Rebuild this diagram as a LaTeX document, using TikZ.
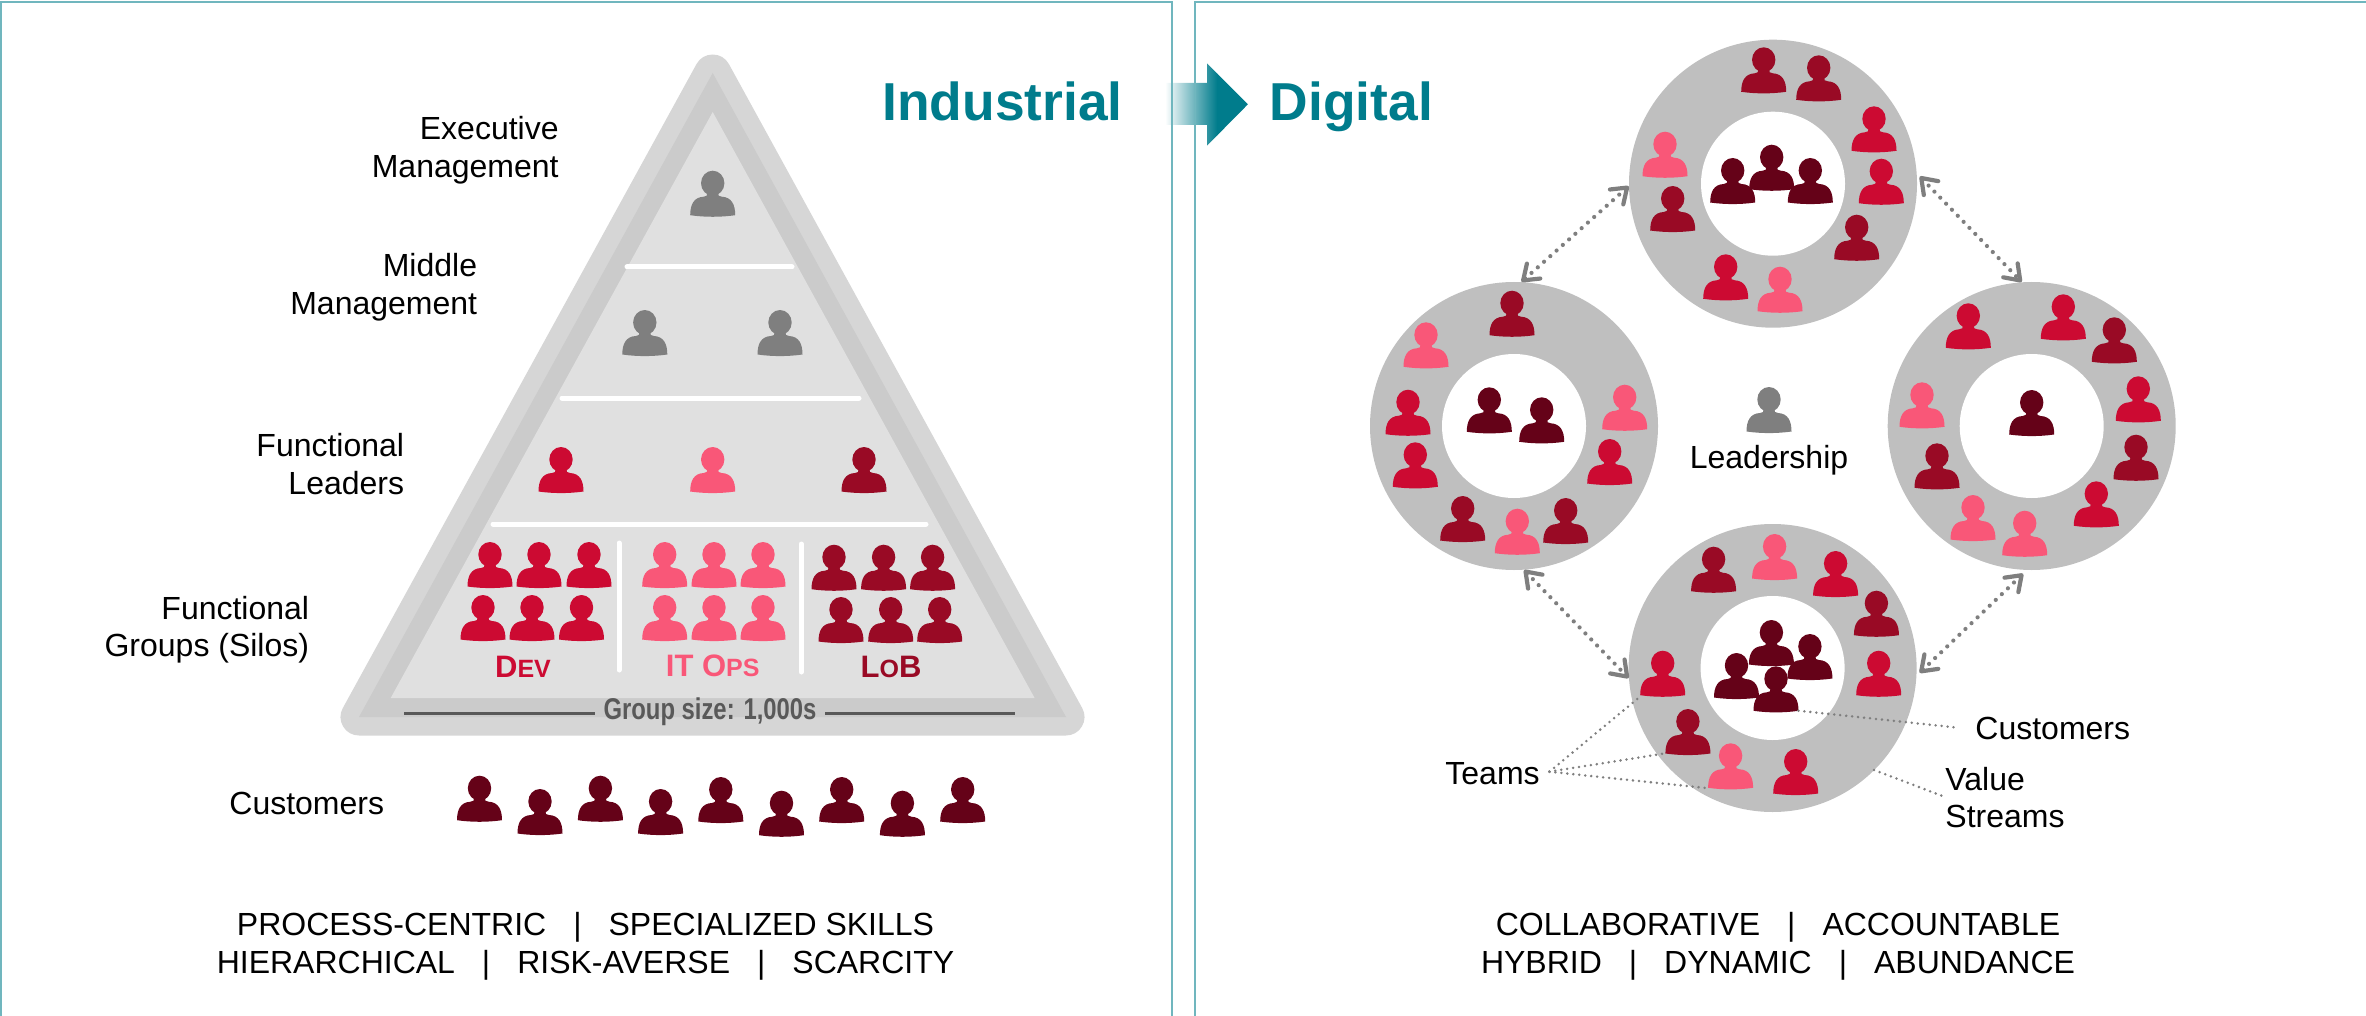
\documentclass[tikz,border=0pt]{standalone}
\usepackage{fontspec}
\usepackage{graphicx}
\setmainfont{Liberation Sans}
\usetikzlibrary{arrows.meta}
\definecolor{redA}{HTML}{CC0A32}
\definecolor{pinkA}{HTML}{F95778}
\definecolor{darkA}{HTML}{990A25}
\definecolor{deepA}{HTML}{650218}
\definecolor{grayA}{HTML}{7F7F7F}
\definecolor{tealA}{HTML}{007C8C}
\definecolor{panelA}{HTML}{70B6BE}
\definecolor{ringA}{HTML}{BFBFBF}
\definecolor{pyrA}{HTML}{D6D6D6}
\definecolor{pyrB}{HTML}{CBCBCB}
\definecolor{pyrC}{HTML}{E0E0E0}
\definecolor{txtG}{HTML}{595959}
\newcommand\smc[1]{{\fontsize{12.5}{12.5}\selectfont #1}}
\newcommand\people[2]{\foreach \px/\py in {#2}{\pic at (\px,\py) {person=#1};}}
\newcommand\sepbar{\hspace{13.5pt}|\hspace{13.5pt}}
\tikzset{
  pics/person/.style={code={
    \fill[#1] (-22.5,-1.5) .. controls (-22.5,-12) and (-19,-19.5) .. (-9,-20)
      -- (-6,-21) -- (-5,-26) -- (5,-26) -- (6,-21) -- (9,-20)
      .. controls (19,-19.5) and (22.5,-12) .. (22.5,-1.5)
      .. controls (8,0.6) and (-8,0.6) .. (-22.5,-1.5) -- cycle;
    \fill[#1] (0,-33.5) ellipse (11.7 and 12.5);
  }},
  lab/.style={inner sep=0pt,font=\fontsize{16}{18.75}\selectfont,align=#1},
  lab/.default=center,
  motto/.style={inner sep=0pt,font=\fontsize{16}{18.75}\selectfont,align=center},
  heading/.style={inner sep=0pt,anchor=base west,text=tealA,font=\fontsize{26.7}{30}\selectfont\bfseries},
  group/.style={inner sep=0pt,font=\fontsize{15.5}{18}\selectfont\bfseries},
  ring/.style={circle,fill=ringA,minimum size=144pt,inner sep=0pt},
  hub/.style={circle,fill=white,minimum size=72pt,inner sep=0pt},
  divider/.style={white,line width=2.5pt,line cap=round},
  link/.style={grayA,line width=2.1pt,line cap=round,dash pattern=on 0pt off 4.2pt,
    {Straight Barb[length=7pt,width=10pt,round,line width=2.1pt]}-{Straight Barb[length=7pt,width=10pt,round,line width=2.1pt]}},
  callout/.style={grayA,line width=1.4pt,line cap=round,dash pattern=on 0pt off 3pt},
}
\begin{document}
\begin{tikzpicture}[x=0.5pt,y=-0.5pt]
\useasboundingbox (0,0) rectangle (2366,1016);
% pyramid
\draw[pyrA,fill=pyrB,line width=18.5pt,line join=round]
  (712.7,73) -- (1066,717) -- (359,717) -- cycle;
\fill[pyrB] (712.7,73) -- (1066,717) -- (359,717) -- cycle;
\fill[pyrC] (712.7,112) -- (1034.6,698) -- (390.7,698) -- cycle;
\draw[divider] (627,267) -- (792,267);
\draw[divider] (562,398) -- (859,398);
\draw[divider] (493,524) -- (926,524);
\draw[divider] (619,543) -- (619,670);
\draw[divider] (801.4,544) -- (801.4,672);
% pyramid people
\people{grayA}{712.7/216.7,644.8/356,780/356}
\people{redA}{561/493}
\people{pinkA}{712.7/493}
\people{darkA}{864/493}
\people{redA}{490/588,539/588,589/588,483/641,532/641,581.5/641}
\people{pinkA}{664.7/588,714/588,763/588,664.7/641,714/641,763/641}
\people{darkA}{834/590.7,883.6/590.7,932.6/590.7,841/643,890.7/643,939.7/643}
\people{deepA}{479.5/821.7,540/835,600.4/821.7,660.6/835,720.8/823,781.5/836.7,841.7/823,902.4/836.7,962.7/823}
% pyramid text
\node[group,text=redA] (dev) at (523,667) {D\smc{EV}};
\node[group,text=pinkA] (ops) at (712.7,666) {IT O\smc{PS}};
\node[group,text=darkA] (lob) at (891,667) {L\smc{O}B};
\node[inner sep=4.25pt,text=txtG,font=\fontsize{15}{16}\selectfont\bfseries] (gs) at (710,712) {\scalebox{0.795}[1]{Group size: 1,000s}};
\coordinate (gsL) at (404,713.7);
\coordinate (gsR) at (1015,713.7);
\draw[txtG,line width=1.5pt] (gsL) -- (gs.west |- gsL);
\draw[txtG,line width=1.5pt] (gs.east |- gsR) -- (gsR);
\node[lab=right,anchor=east] (exec) at (559,150) {Executive\\Management};
\node[lab=right,anchor=east] (mid) at (477.5,287) {Middle\\Management};
\node[lab=right,anchor=east] (lead) at (404.5,464) {Functional\\Leaders};
\node[lab=right,anchor=east] (grp) at (309.5,629.5) {Functional\\Groups (Silos)};
\node[lab=left,anchor=west] (cust) at (229,803) {Customers};
\node[motto] (mottoL) at (585.5,946.5) {PROCESS-CENTRIC\sepbar SPECIALIZED SKILLS\\HIERARCHICAL\sepbar RISK-AVERSE\sepbar SCARCITY};
\node[heading] (ind) at (882,121) {Industrial};
% arrow
\begin{scope}
\clip (1165.7,83) -- (1207,83) -- (1207,63.3) -- (1247.9,104.3) -- (1207,145.7) -- (1207,125) -- (1165.7,125) -- cycle;
\shade[left color=white,right color=tealA] (1165,60) rectangle (1217,150);
\fill[tealA] (1216.5,60) rectangle (1250,150);
\end{scope}
% panels
\draw[panelA,line width=1pt] (1,1016) -- (1,2) -- (1172,2) -- (1172,1016);
\draw[panelA,line width=1pt] (2366,2) -- (1195,2) -- (1195,1016);
\node[heading] (dig) at (1269.5,121) {Digital};
% rings
\node[ring] (ringT) at (1773,183.7) {};
\node[ring] (ringL) at (1514,426) {};
\node[ring] (ringR) at (2031.7,426) {};
\node[ring] (ringB) at (1772.6,668) {};
\node[hub] (hubT) at (1773,183.7) {};
\node[hub] (hubL) at (1514,426) {};
\node[hub] (hubR) at (2031.7,426) {};
\node[hub] (hubB) at (1772.6,668) {};
% links
\draw[link] (ringT.181.5) -- (ringL.87);
\draw[link,shorten <=2pt] (ringT.4) -- (ringR.94);
\draw[link] (ringL.274.5) -- (ringB.184.5);
\draw[link,shorten <=2.5pt,shorten >=2pt] (ringR.268.5) -- (ringB.-3.4);
% ring people: top
\people{darkA}{1763.7/93.3,1818.7/101.3,1856.7/260.7,1672.7/232}
\people{redA}{1874/152.3,1881.3/204.7,1725.7/300.3}
\people{pinkA}{1780/312.7,1665/177.7}
\people{deepA}{1771.7/190.7,1732.7/204,1810.3/204}
% left
\people{darkA}{1512/336.7,1462.7/542,1565.7/544}
\people{pinkA}{1426/368.3,1517.3/554.7,1624.7/430.7}
\people{redA}{1408/435.7,1415.3/488.3,1609.7/485}
\people{deepA}{1489.3/433.3,1541.7/443.3}
% right
\people{redA}{1968.3/349.3,2063.3/340.3,2138.3/422.3,2096.3/527.3}
\people{darkA}{2114.3/363.3,2136/480.7,1937/489.3}
\people{pinkA}{2024.7/556.7,1973/541,1922/428.3}
\people{deepA}{2031.7/436}
% bottom
\people{darkA}{1713.6/592.7,1876.4/636.7,1687.9/755}
\people{pinkA}{1774.6/580,1730.6/789.3}
\people{redA}{1835.6/597,1878.7/696.7,1662.7/696.7,1795.7/795}
\people{deepA}{1771.4/666,1809.9/680,1736.5/699,1776/712.3}
% leadership
\people{grayA}{1769/433}
\node[lab] (ldr) at (1769,460.5) {Leadership};
% callouts
\node[lab=left,anchor=west] (cu) at (1975,728) {Customers};
\node[lab=left,anchor=west] (tm) at (1445,773.5) {Teams};
\node[lab=left,anchor=west] (vs) at (1945,797.5) {Value\\Streams};
\coordinate (tmHub) at (1549.4,771.7);
\coordinate (tA) at (1640,696.7);
\coordinate (tB) at (1665.4,753.3);
\coordinate (tC) at (1709,788.3);
\coordinate (cA) at (1798.4,710.7);
\coordinate (cB) at (1954.4,727.3);
\coordinate (vA) at (1874,770);
\coordinate (vB) at (1946,797.3);
\draw[callout] (tmHub) -- (tA);
\draw[callout] (tmHub) -- (tB);
\draw[callout] (tmHub) -- (tC);
\draw[callout] (cA) -- (cB);
\draw[callout] (vA) -- (vB);
\node[motto] (mottoR) at (1778,946.5) {COLLABORATIVE\sepbar ACCOUNTABLE\\HYBRID\sepbar DYNAMIC\sepbar ABUNDANCE};
\end{tikzpicture}
\end{document}
